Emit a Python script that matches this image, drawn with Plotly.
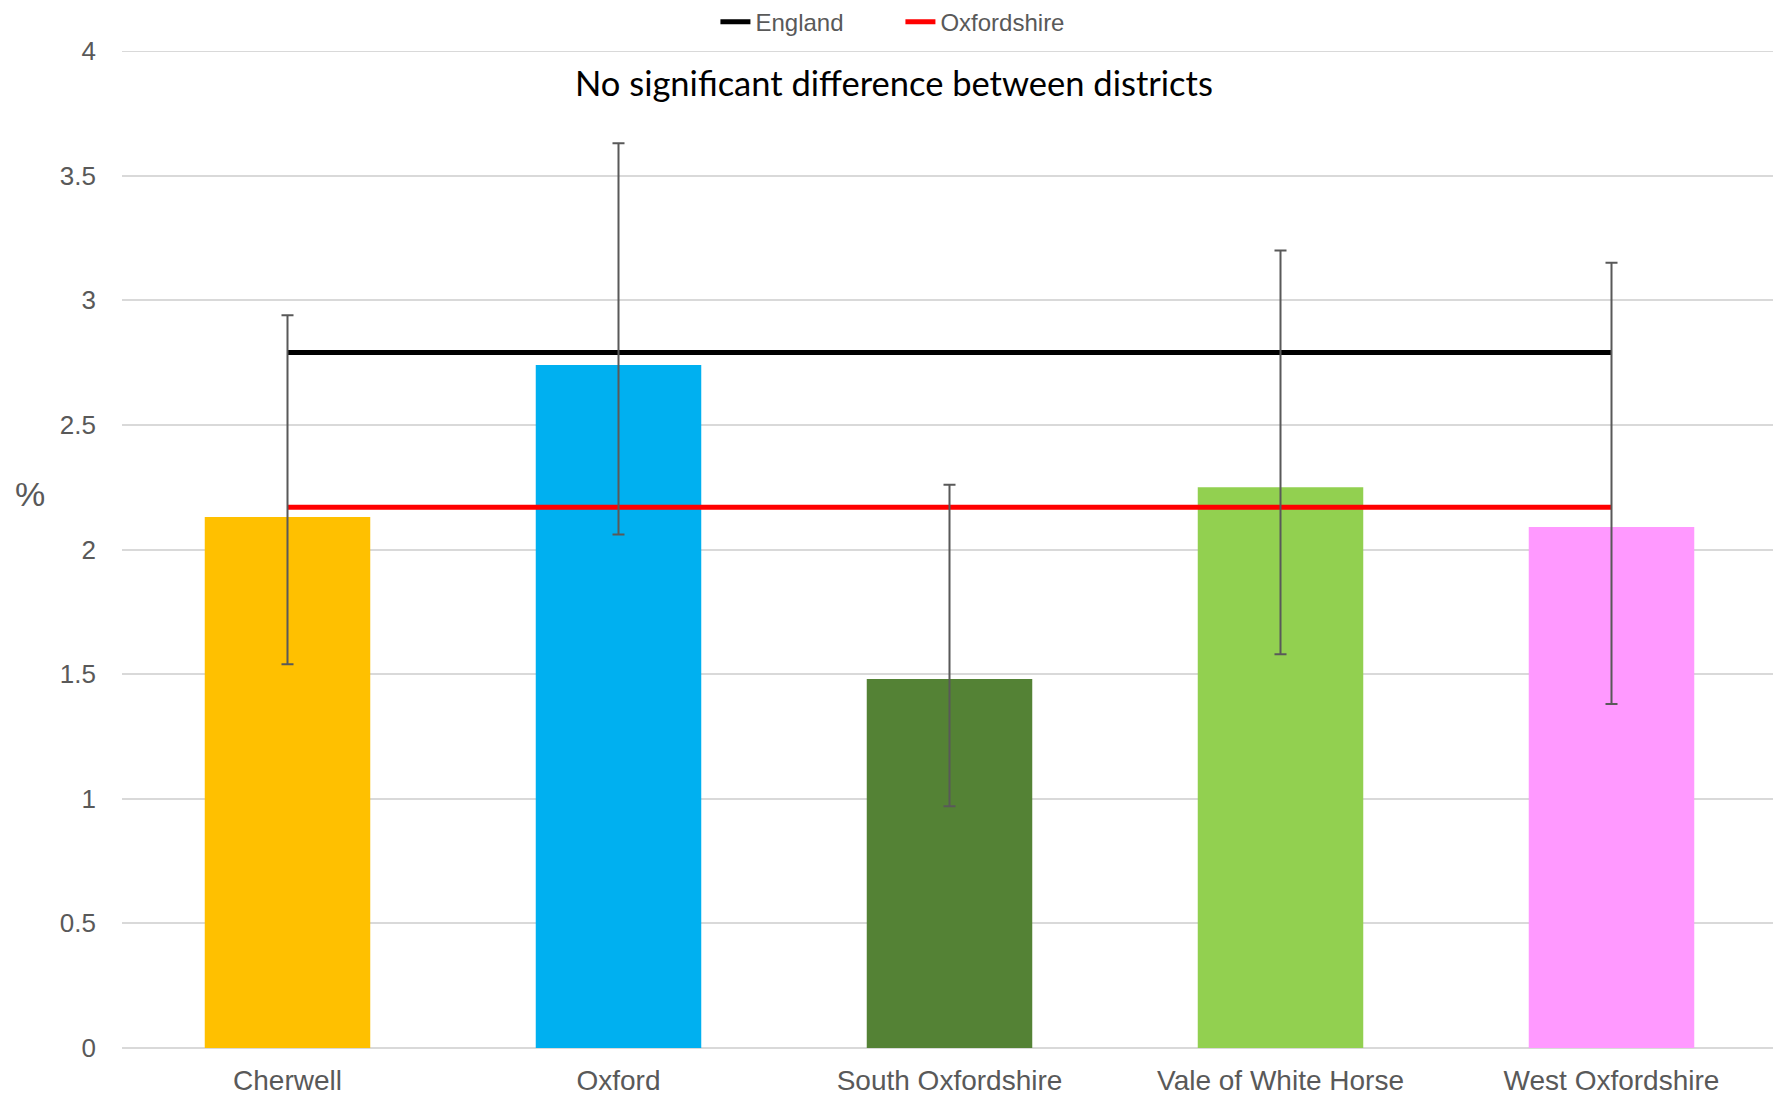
import plotly.graph_objects as go

districts = ["Cherwell", "Oxford", "South Oxfordshire", "Vale of White Horse", "West Oxfordshire"]
values = [2.13, 2.74, 1.48, 2.25, 2.09]
ci_lower = [1.54, 2.06, 0.97, 1.58, 1.38]
ci_upper = [2.94, 3.63, 2.26, 3.20, 3.15]
bar_colors = ["#FFC000", "#00B0F0", "#548235", "#92D050", "#FF99FF"]
england_value = 2.79
oxfordshire_value = 2.17
y_ticks = [0, 0.5, 1, 1.5, 2, 2.5, 3, 3.5, 4]
y_tick_labels = ["0", "0.5", "1", "1.5", "2", "2.5", "3", "3.5", "4"]

err_plus = [u - v for u, v in zip(ci_upper, values)]
err_minus = [v - l for v, l in zip(values, ci_lower)]

grid_color = "#D9D9D9"

fig = go.Figure()
fig.add_trace(go.Bar(x=districts, y=values, marker=dict(color=bar_colors, line=dict(width=0)),
                     showlegend=False, hoverinfo="x+y"))
fig.add_trace(go.Scatter(x=districts, y=[england_value] * len(districts), mode="lines",
                         name="England", line=dict(color="#000000", width=5)))
fig.add_trace(go.Scatter(x=districts, y=[oxfordshire_value] * len(districts), mode="lines",
                         name="Oxfordshire", line=dict(color="#FF0000", width=5)))
fig.add_trace(go.Scatter(x=districts, y=values, mode="markers", marker=dict(size=1, opacity=0),
                         showlegend=False,
                         error_y=dict(type="data", symmetric=False, array=err_plus, arrayminus=err_minus,
                                      color="#595959", thickness=2, width=6)))

# top gridline (at the range end, which plotly does not draw itself)
fig.add_shape(type="line", xref="paper", yref="y", x0=0, x1=1, y0=y_ticks[-1], y1=y_ticks[-1],
              line=dict(color=grid_color, width=2), layer="below")

fig.add_annotation(text="No significant difference between districts", xref="paper", yref="paper",
                   x=0.4665, y=0.968, xanchor="center", yanchor="middle", showarrow=False,
                   font=dict(family="Lato", size=34.5, color="#000000"))
fig.add_annotation(text="%", xref="paper", yref="paper", x=-0.0556, y=0.556,
                   xanchor="center", yanchor="middle", showarrow=False,
                   font=dict(family="Liberation Sans", size=34, color="#595959"))

fig.update_layout(
    width=1773, height=1089,
    margin=dict(l=114, r=4, t=43, b=49, autoexpand=False),
    paper_bgcolor="white", plot_bgcolor="white",
    bargap=0.5,
    font=dict(family="Liberation Sans", color="#595959"),
    legend=dict(orientation="h", xref="container", yref="container", x=0.399, y=0.987,
                xanchor="left", yanchor="middle", font=dict(size=24, color="#595959"),
                entrywidth=140, entrywidthmode="pixels", tracegroupgap=0,
                bgcolor="rgba(0,0,0,0)"),
    xaxis=dict(showgrid=False, showline=False, ticks="", tickfont=dict(size=28, color="#595959"),
               ticklabelstandoff=13, tickangle=0),
    yaxis=dict(range=[0, 4], tickvals=y_ticks, ticktext=y_tick_labels, showgrid=True,
               gridcolor=grid_color, gridwidth=2, zeroline=True, zerolinecolor=grid_color,
               zerolinewidth=2, showline=False,
               tickfont=dict(size=26, color="#595959"), ticklabelstandoff=25),
)

fig.write_html("out.html")
